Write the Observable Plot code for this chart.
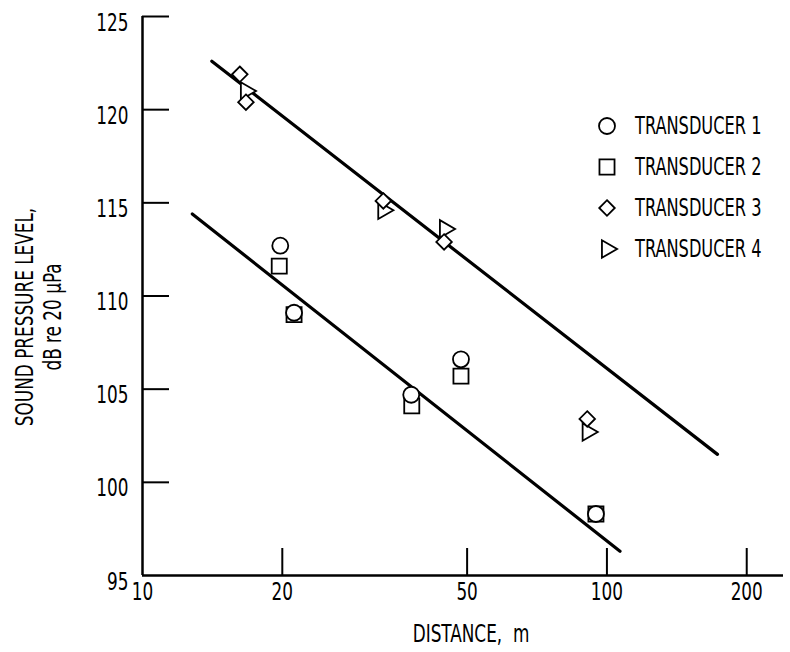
<!DOCTYPE html>
<html>
<head>
<meta charset="utf-8">
<script src="https://cdn.jsdelivr.net/npm/d3@7"></script>
<script src="https://cdn.jsdelivr.net/npm/@observablehq/plot@0.6"></script>
<style>
  body { margin: 0; background: #fff; }
  #wrap { position: relative; width: 790px; height: 652px; font-family: "DejaVu Sans Condensed", "DejaVu Sans", sans-serif; color: #000; }
  #legend { position: absolute; left: 597px; top: 105px; }
  .row { display: flex; align-items: center; height: 41px; font-size: 24px; }
  .row svg { margin-right: 18px; overflow: visible; flex: none; }
  .row span { display: inline-block; transform: scaleX(0.75); transform-origin: left center; white-space: nowrap; }
</style>
</head>
<body>
<div id="wrap"><div id="legend"></div></div>
<script>
// ---- data ----
const t1Dist = [19.8, 21.2, 37.9, 48.5, 94.7];
const t1Spl  = [112.7, 109.1, 104.7, 106.6, 98.3];
const t2Dist = [19.7, 21.2, 38.0, 48.5, 94.7];
const t2Spl  = [111.6, 109.0, 104.1, 105.7, 98.3];
const t3Dist = [16.2, 16.7, 33.0, 44.6, 90.7];
const t3Spl  = [121.9, 120.4, 115.1, 112.9, 103.4];
const t4Dist = [16.7, 33.0, 44.8, 90.9];
const t4Spl  = [121.0, 114.6, 113.6, 102.7];

const upperFitDist = [14.1, 173];
const upperFitSpl  = [122.6, 101.5];
const lowerFitDist = [12.8, 106.7];
const lowerFitSpl  = [114.4, 96.3];

const xTicks = [10, 20, 50, 100, 200];
const yTicks = [95, 100, 105, 110, 115, 120, 125];
const legendLabels = ["TRANSDUCER 1", "TRANSDUCER 2", "TRANSDUCER 3", "TRANSDUCER 4"];
const xLabel = "DISTANCE,  m";
const yLabelLines = ["SOUND PRESSURE LEVEL,", "dB re 20 \u00b5Pa"];

const pts = (xs, ys) => xs.map((x, i) => ({x, y: ys[i]}));
const font = "DejaVu Sans Condensed, DejaVu Sans, sans-serif";

const chart = Plot.plot({
  width: 790,
  height: 652,
  marginLeft: 142,
  marginRight: 7,
  marginTop: 16,
  marginBottom: 77,
  style: {fontFamily: font, fontSize: "25px", background: "#fff", color: "#000"},
  x: {type: "log", domain: [10, 240]},
  y: {domain: [95, 125]},
  marks: [
    Plot.ruleX([10], {stroke: "#000", strokeWidth: 2.5}),
    Plot.ruleY([95], {stroke: "#000", strokeWidth: 2.5}),
    Plot.axisX({ticks: xTicks.filter(d => d !== 10), tickSize: -27, tickFormat: () => "", strokeWidth: 2, label: null}),
    Plot.axisX({ticks: xTicks, tickSize: -27, tickPadding: 34, tickFormat: d => String(d), stroke: "none", fontSize: 25, label: null}),
    Plot.axisY({ticks: yTicks.filter(d => d !== 95), tickSize: -27, tickFormat: () => "", strokeWidth: 2, label: null}),
    Plot.axisY({ticks: yTicks, tickSize: -27, tickPadding: 41, dy: 6, tickFormat: d => String(d), stroke: "none", fontSize: 25, label: null}),
    Plot.text([xLabel], {frameAnchor: "bottom", dx: 8, dy: 58, text: d => d, fontSize: 25, lineAnchor: "middle"}),
    Plot.text([yLabelLines.join("\n")], {frameAnchor: "left", dx: -104, dy: 21, rotate: -90, text: d => d, fontSize: 25, lineHeight: 1.12, textAnchor: "middle", lineAnchor: "middle"}),
    Plot.line(pts(upperFitDist, upperFitSpl), {x: "x", y: "y", stroke: "#000", strokeWidth: 3.2}),
    Plot.line(pts(lowerFitDist, lowerFitSpl), {x: "x", y: "y", stroke: "#000", strokeWidth: 3.2}),
    Plot.dot(pts(t2Dist, t2Spl), {x: "x", y: "y", symbol: "square", r: 8.5, stroke: "#000", strokeWidth: 1.8, fill: "#fff"}),
    Plot.dot(pts(t1Dist, t1Spl), {x: "x", y: "y", symbol: "circle", r: 8, stroke: "#000", strokeWidth: 1.8, fill: "#fff"}),
    Plot.dot(pts(t4Dist, t4Spl), {x: "x", y: "y", symbol: "triangle", rotate: 90, r: 6.5, stroke: "#000", strokeWidth: 1.8, fill: "#fff"}),
    Plot.dot(pts(t3Dist, t3Spl), {x: "x", y: "y", symbol: "diamond2", r: 7, stroke: "#000", strokeWidth: 1.8, fill: "#fff"})
  ]
});
const wrap = document.getElementById("wrap");
wrap.insertBefore(chart, wrap.firstChild);

// narrow the lettering to match the condensed typeface of the original
const squeeze = 0.75;
chart.querySelectorAll("text").forEach(t => {
  const spans = t.querySelectorAll("tspan");
  const els = spans.length ? Array.from(spans) : [t];
  els.forEach(el => {
    const w = el.getComputedTextLength();
    if (w > 0) {
      el.setAttribute("textLength", (w * squeeze).toFixed(2));
      el.setAttribute("lengthAdjust", "spacingAndGlyphs");
    }
  });
});

// legend
const legendSymbols = [
  {sym: d3.symbolCircle, r: 8, rot: 0},
  {sym: d3.symbolSquare, r: 8.5, rot: 0},
  {sym: d3.symbolDiamond2, r: 7, rot: 0},
  {sym: d3.symbolTriangle, r: 6.5, rot: 90}
];
const legend = d3.select("#legend");
legendLabels.forEach((lab, i) => {
  const s = legendSymbols[i];
  const row = legend.append("div").attr("class", "row");
  const svg = row.append("svg").attr("width", 20).attr("height", 20);
  svg.append("path")
    .attr("d", d3.symbol(s.sym, Math.PI * s.r * s.r)())
    .attr("transform", `translate(10,10) rotate(${s.rot})`)
    .attr("fill", "none").attr("stroke", "#000").attr("stroke-width", 1.8);
  row.append("span").text(lab);
});
</script>
</body>
</html>
